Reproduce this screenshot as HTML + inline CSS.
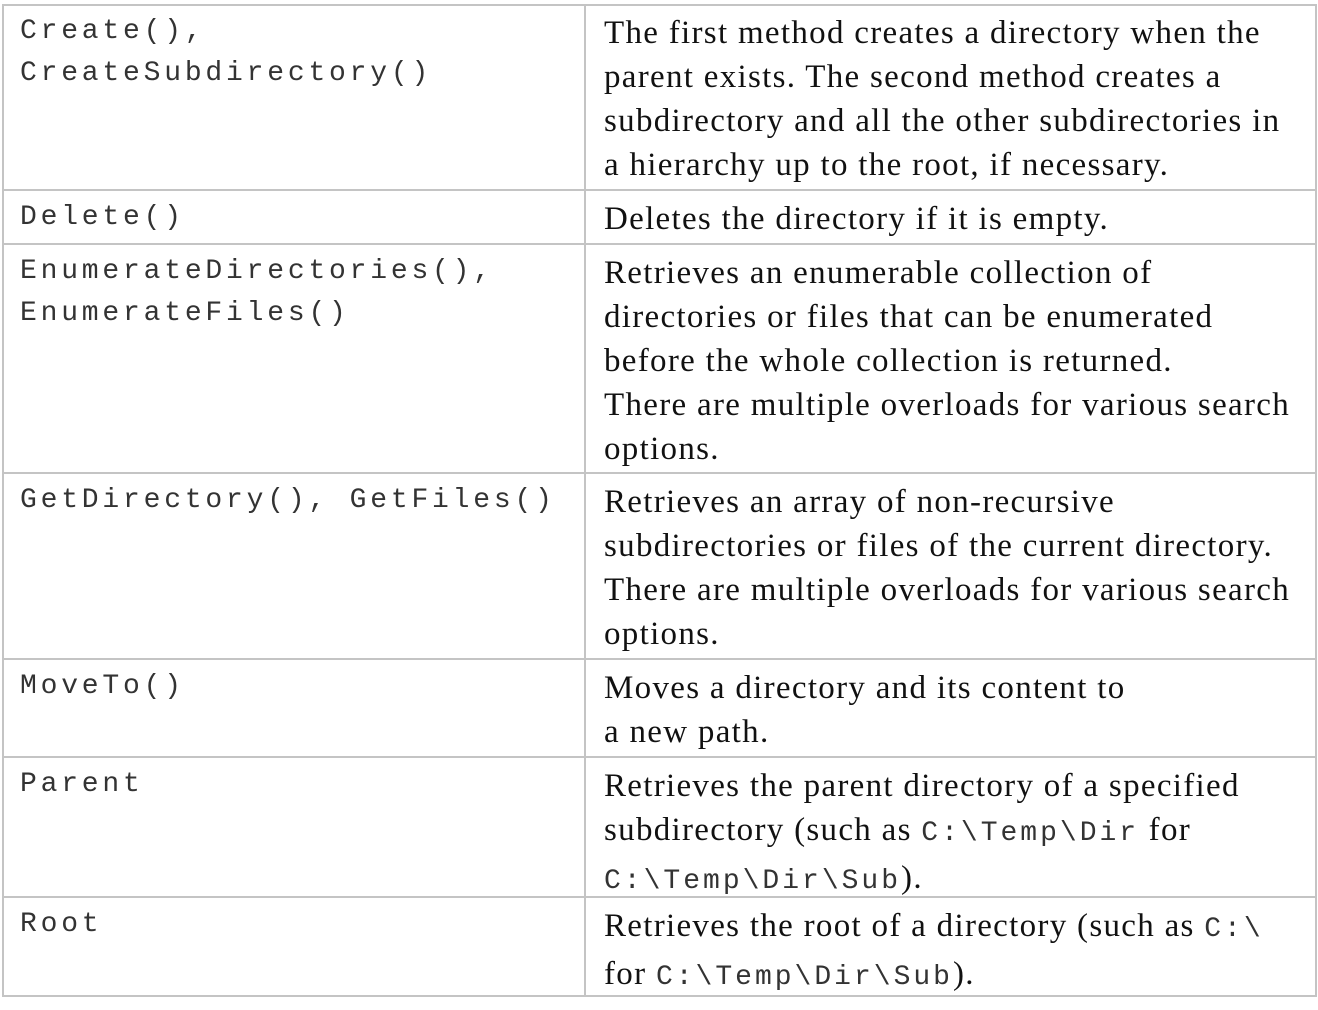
<!DOCTYPE html>
<html><head><style>
body{margin:0;width:1318px;height:1010px;background:#fff;position:relative;overflow:hidden}
.h{position:absolute;left:2px;width:1315px;height:2px;background:#c4c4c4}
.v{position:absolute;top:4px;height:993px;width:2px;background:#c4c4c4}
.c{position:absolute;left:20px;font-family:"Liberation Mono",monospace;font-size:28px;letter-spacing:3.8px;line-height:42px;color:#333;white-space:pre}
.d{position:absolute;left:604px;font-family:"Liberation Serif",serif;font-size:33px;letter-spacing:1.3px;line-height:44px;color:#111;white-space:nowrap}
.d code{font-family:"Liberation Mono",monospace;font-size:28px;letter-spacing:3px;color:#333}
</style></head><body>
<div class="h" style="top:4px"></div>
<div class="h" style="top:189px"></div>
<div class="h" style="top:243px"></div>
<div class="h" style="top:472px"></div>
<div class="h" style="top:658px"></div>
<div class="h" style="top:756px"></div>
<div class="h" style="top:896px"></div>
<div class="h" style="top:995px"></div>
<div class="v" style="left:2px"></div>
<div class="v" style="left:584px"></div>
<div class="v" style="left:1315px"></div>

<div class="c" style="top:11px">Create(),
CreateSubdirectory()</div>
<div class="d" style="top:11px">The first method creates a directory when the<br>parent exists. The second method creates a<br>subdirectory and all the other subdirectories in<br>a hierarchy up to the root, if necessary.</div>

<div class="c" style="top:197px">Delete()</div>
<div class="d" style="top:197px">Deletes the directory if it is empty.</div>

<div class="c" style="top:251px">EnumerateDirectories(),
EnumerateFiles()</div>
<div class="d" style="top:251px">Retrieves an enumerable collection of<br>directories or files that can be enumerated<br>before the whole collection is returned.<br>There are multiple overloads for various search<br>options.</div>

<div class="c" style="top:480px">GetDirectory(), GetFiles()</div>
<div class="d" style="top:480px">Retrieves an array of non-recursive<br>subdirectories or files of the current directory.<br>There are multiple overloads for various search<br>options.</div>

<div class="c" style="top:666px">MoveTo()</div>
<div class="d" style="top:666px">Moves a directory and its content to<br>a new path.</div>

<div class="c" style="top:764px">Parent</div>
<div class="d" style="top:764px">Retrieves the parent directory of a specified<br>subdirectory (such as <code>C:\Temp\Dir</code> for<br><code>C:\Temp\Dir\Sub</code>).</div>

<div class="c" style="top:904px">Root</div>
<div class="d" style="top:904px">Retrieves the root of a directory (such as <code>C:\</code><br>for <code>C:\Temp\Dir\Sub</code>).</div>
</body></html>
